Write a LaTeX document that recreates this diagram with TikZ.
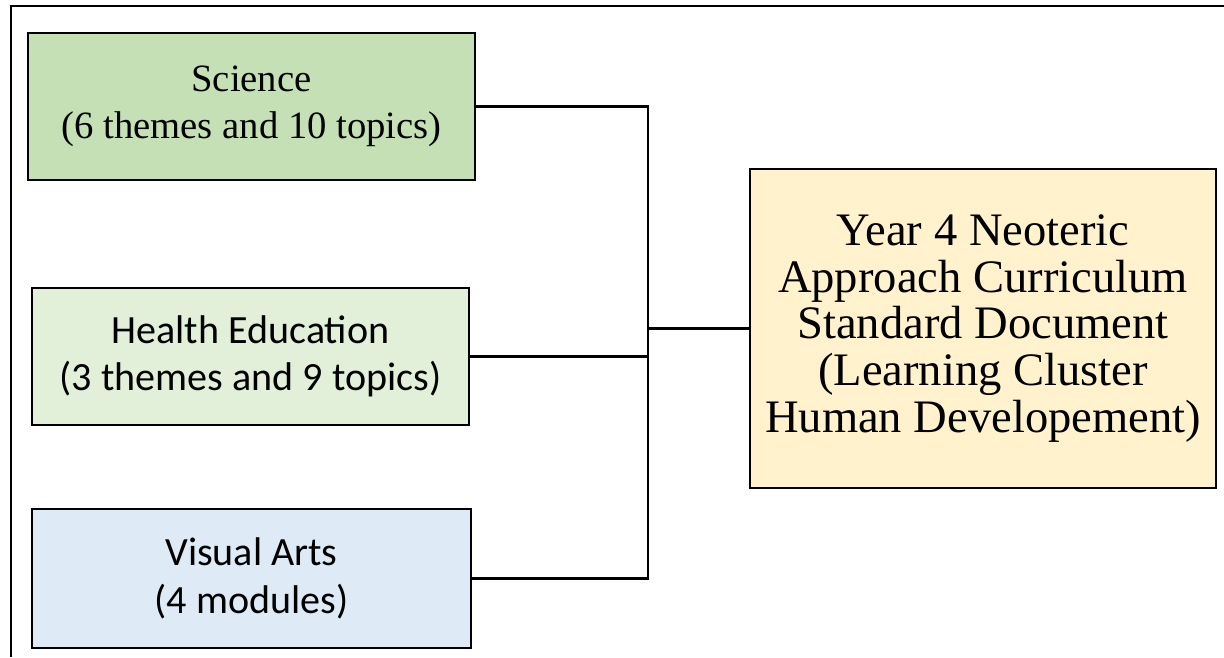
\documentclass[tikz,border=0pt]{standalone}
\usepackage{fontspec}
\setmainfont{Liberation Serif}
\newfontfamily\calibri{Carlito}
\usepackage{xcolor}
\usetikzlibrary{positioning}

\definecolor{scigreen}{HTML}{C5E0B4}
\definecolor{healthgreen}{HTML}{E2F0D9}
\definecolor{artblue}{HTML}{DEEBF7}
\definecolor{docyellow}{HTML}{FFF2CC}

\tikzset{
  subjbox/.style={draw, line width=1.2pt, align=center, inner sep=0pt,
    font=\fontsize{22}{27}\selectfont},
  docbox/.style={subjbox, font=\fontsize{26.5}{26.5}\selectfont},
  link/.style={line width=1.4pt}
}

\begin{document}
\begin{tikzpicture}[x=0.02cm, y=-0.02cm]
    \useasboundingbox (0,0) rectangle (1224,657);
    % frame
    \draw[line width=0.6pt] (11,657) -- (11,6) -- (1224,6);

    % subject boxes
    \node[subjbox, fill=scigreen, minimum width=8.94cm, minimum height=2.94cm]
        (sci) at (251.5,106.5) {Science\\(6 themes and 10 topics)};
    \node[subjbox, fill=healthgreen, minimum width=8.74cm, minimum height=2.74cm,
        font=\calibri\fontsize{22.8}{27}\selectfont]
        (health) at (250.5,356.5) {Health Education\\(3 themes and 9 topics)};
    \node[subjbox, fill=artblue, minimum width=8.78cm, minimum height=2.78cm,
        font=\calibri\fontsize{22.8}{27}\selectfont]
        (art) at (251.5,578.5) {Visual Arts\\(4 modules)};

    % curriculum document
    \node[docbox, fill=docyellow, minimum width=9.32cm, minimum height=6.38cm]
        (doc) at (983,328.5) {Year 4 Neoteric\\Approach Curriculum\\Standard Document\\(Learning Cluster\\Human Developement)};

    % links
    \coordinate (jn) at (648,328.5);
    \draw[link] (sci.east) -| (jn) -- (doc.west);
    \draw[link] (health.east) -| (jn);
    \draw[link] (art.east) -| (jn);
\end{tikzpicture}
\end{document}
